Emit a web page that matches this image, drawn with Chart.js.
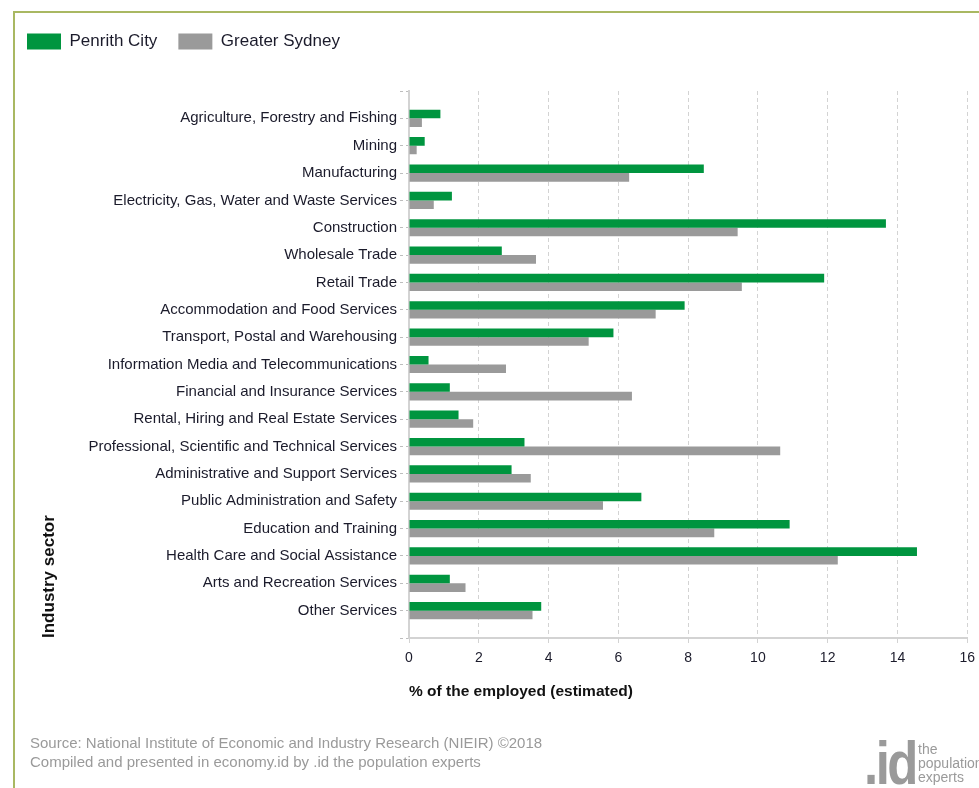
<!DOCTYPE html>
<html>
<head>
<meta charset="utf-8">
<title>Industry sector of employment</title>
<script src="https://cdn.jsdelivr.net/npm/chart.js@4.4.1/dist/chart.umd.min.js"></script>
<style>
  body { margin: 0; background: #fff; font-family: "Liberation Sans", Arial, sans-serif; }
  #wrap { position: relative; width: 979px; height: 788px; overflow: hidden; }
  #frame { position: absolute; left: 13px; top: 11px; width: 1000px; height: 800px;
           border-left: 2px solid #a9b862; border-top: 2px solid #a9b862; }
  #chart { position: absolute; left: 0; top: 0; }
  .source { position: absolute; left: 30px; top: 733px; font-size: 15px; line-height: 19px; color: #9a9a9a; }
  .logo { position: absolute; left: 864px; top: 722px; color: #9a9a9a; }
  .logo .id { position: absolute; left: 0; top: 6px; font-size: 62px; font-weight: bold; letter-spacing: -3px;
              line-height: 70px; transform: scaleX(0.82); transform-origin: left top; }
  .logo .tag { position: absolute; left: 54px; top: 20px; font-family: "Liberation Sans Narrow", "Liberation Sans", sans-serif;
               font-size: 14px; line-height: 14px; }
</style>
</head>
<body>
<div id="wrap">
  <div id="frame"></div>
  <canvas id="chart" width="979" height="788"></canvas>
  <div class="source">Source: National Institute of Economic and Industry Research (NIEIR) ©2018<br>Compiled and presented in economy.id by .id the population experts</div>
  <div class="logo"><span class="id">.id</span><span class="tag">the<br>population<br>experts</span></div>
</div>
<script>
const sectors = [
  'Agriculture, Forestry and Fishing',
  'Mining',
  'Manufacturing',
  'Electricity, Gas, Water and Waste Services',
  'Construction',
  'Wholesale Trade',
  'Retail Trade',
  'Accommodation and Food Services',
  'Transport, Postal and Warehousing',
  'Information Media and Telecommunications',
  'Financial and Insurance Services',
  'Rental, Hiring and Real Estate Services',
  'Professional, Scientific and Technical Services',
  'Administrative and Support Services',
  'Public Administration and Safety',
  'Education and Training',
  'Health Care and Social Assistance',
  'Arts and Recreation Services',
  'Other Services'
];

// % of the employed (estimated)
const penrith = [0.9, 0.45, 8.45, 1.23, 13.67, 2.66, 11.9, 7.9, 5.86, 0.56, 1.17, 1.42, 3.31, 2.94, 6.66, 10.91, 14.56, 1.17, 3.79];
const sydney  = [0.37, 0.22, 6.31, 0.71, 9.42, 3.64, 9.54, 7.07, 5.15, 2.78, 6.39, 1.84, 10.64, 3.49, 5.56, 8.75, 12.29, 1.62, 3.54];

const xMin = 0;
const xMax = 16;
const xStep = 2;

// one empty slot above and below the sectors so the axis has a gap at each end
const pad = (arr) => [null, ...arr, null];

Chart.defaults.font.family = '"Liberation Sans", Arial, sans-serif';

// push the plot down a bit below the legend
const legendGap = {
  id: 'legendGap',
  beforeInit(chart) {
    const fit = chart.legend.fit;
    chart.legend.fit = function () {
      fit.call(this);
      this.height += 31;
    };
  }
};

const ctx = document.getElementById('chart');

new Chart(ctx, {
  type: 'bar',
  data: {
    labels: ['', ...sectors, ''],
    datasets: [
      { label: 'Penrith City', data: pad(penrith), backgroundColor: '#00953f' },
      { label: 'Greater Sydney', data: pad(sydney), backgroundColor: '#9a9a9a' }
    ]
  },
  options: {
    indexAxis: 'y',
    responsive: false,
    animation: false,
    categoryPercentage: 0.63,
    barPercentage: 1,
    layout: { padding: { left: 6, top: 12, right: 10, bottom: 80 } },
    plugins: {
      legend: {
        position: 'top',
        align: 'start',
        labels: { boxWidth: 34, boxHeight: 16, padding: 21, color: '#1b1b2b', font: { size: 17 } }
      },
      tooltip: { enabled: false }
    },
    scales: {
      x: {
        min: xMin,
        max: xMax,
        ticks: { stepSize: xStep, color: '#1b1b2b', font: { size: 14 }, padding: 4 },
        grid: { color: '#d3d3d3', tickLength: 8, tickBorderDash: [4, 3] },
        border: { color: '#d3d3d3', width: 2, dash: [4, 3] },
        title: {
          display: true,
          text: '% of the employed (estimated)',
          align: 'start',
          color: '#111',
          font: { size: 15.5, weight: 'bold' },
          padding: { top: 0, bottom: 7 }
        },
        afterFit: (scale) => { scale.height = 70; }
      },
      y: {
        offset: false,
        ticks: { color: '#1b1b2b', font: { size: 15 }, padding: 3, autoSkip: false },
        grid: { offset: false, drawOnChartArea: false, tickLength: 9, color: '#bdbdbd', tickColor: '#bdbdbd', tickBorderDash: [3, 3] },
        border: { color: '#d3d3d3', width: 2 },
        title: {
          display: true,
          text: 'Industry sector',
          align: 'start',
          color: '#111',
          font: { size: 17, weight: 'bold' },
          padding: { top: 33, bottom: 0 }
        },
        afterFit: (scale) => { scale.width = 403; }
      }
    }
  },
  plugins: [legendGap]
});
</script>
</body>
</html>
